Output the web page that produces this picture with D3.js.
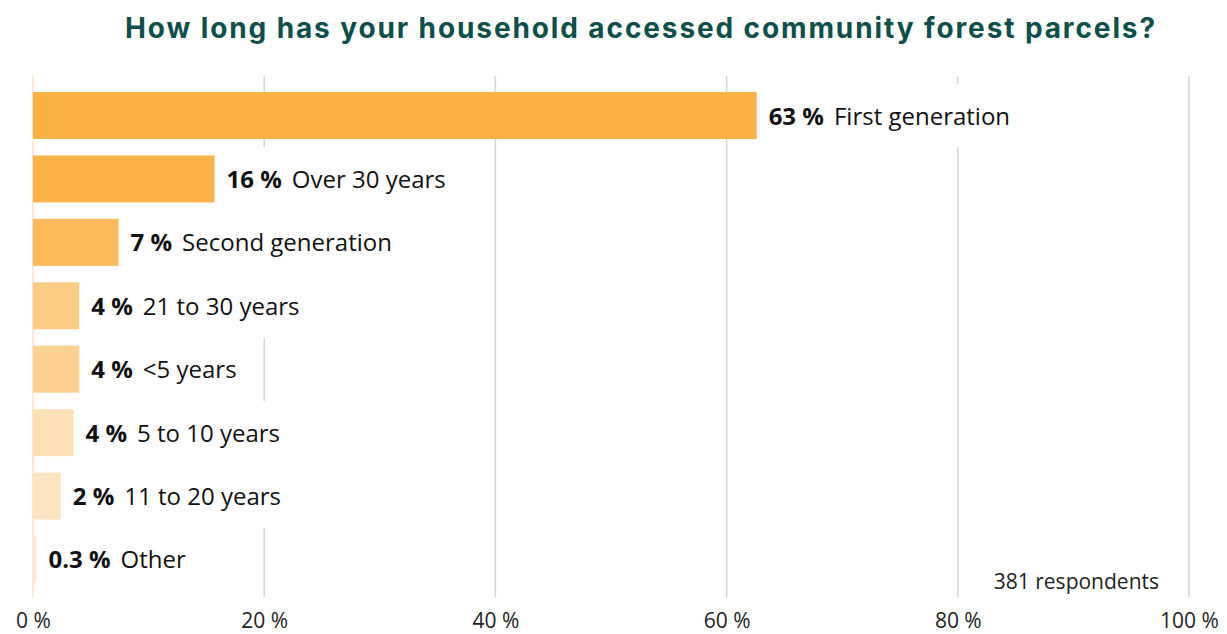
<!DOCTYPE html>
<html>
<head>
<meta charset="utf-8">
<script src="https://cdn.jsdelivr.net/npm/d3@7"></script>
<style>
  body { margin: 0; background: #fff; }
  text { font-family: "Open Sans", "Noto Sans", sans-serif; }
</style>
</head>
<body>
<div id="chart"></div>
<script>
// data
var categories = ["First generation", "Over 30 years", "Second generation", "21 to 30 years",
                  "<5 years", "5 to 10 years", "11 to 20 years", "Other"];
var values = [62.6, 15.7, 7.4, 4.0, 4.0, 3.5, 2.4, 0.3];
var valueLabels = ["63 %", "16 %", "7 %", "4 %", "4 %", "4 %", "2 %", "0.3 %"];
var barColors = ["#fbb144", "#fbb349", "#fbb95a", "#fccb85", "#fcd08f", "#fddfb6", "#fde3bf", "#fee9cf"];
var ticks = [0, 20, 40, 60, 80, 100];
var titleText = "How long has your household accessed community forest parcels?";
var noteText = "381 respondents";

var width = 1227, height = 634;
var margin = {top: 92, left: 33, right: 38, bottom: 51};

var svg = d3.select("#chart").append("svg")
    .attr("width", width)
    .attr("height", height);

var x = d3.scaleLinear()
    .domain([0, 100])
    .range([margin.left, width - margin.right]);

var y = d3.scaleBand()
    .domain(categories)
    .range([margin.top, 583])
    .paddingInner(0.259)
    .paddingOuter(0);

var step = y.step();

// title, stretched to the width it has in the original
var title = svg.append("text")
    .attr("x", 641)
    .attr("y", 38)
    .attr("text-anchor", "middle")
    .style("font-family", "Inter, sans-serif")
    .style("font-weight", 700)
    .style("font-size", "28px")
    .style("fill", "#0d4f4a")
    .text(titleText);
var tw = title.node().getComputedTextLength();
title.style("letter-spacing", ((1032 - tw) / titleText.length) + "px");

// grid lines
var grid = svg.append("g");
grid.selectAll("line")
    .data(ticks)
  .enter().append("line")
    .attr("x1", function(d) { return x(d); })
    .attr("x2", function(d) { return x(d); })
    .attr("y1", 76)
    .attr("y2", 597)
    .style("stroke", function(d) { return d === 0 ? "#fde7d9" : "#d4d4d4"; })
    .style("stroke-width", function(d) { return d === 0 ? 2 : 1.5; });

// axis labels
var xAxis = d3.axisBottom(x)
    .tickValues(ticks)
    .tickSize(0)
    .tickPadding(0)
    .tickFormat(function(d) { return d + " %"; });

var axisG = svg.append("g")
    .attr("transform", "translate(0," + 628 + ")")
    .call(xAxis);
axisG.select(".domain").remove();
axisG.selectAll("text")
    .attr("y", 0)
    .attr("dy", 0)
    .style("font-family", "'Open Sans', sans-serif")
    .style("font-size", "21px")
    .style("fill", "#222");

// label masks + bars + labels
var rows = svg.append("g").selectAll("g")
    .data(categories)
  .enter().append("g");

rows.append("rect").attr("class", "mask").style("fill", "#fff");

rows.append("rect")
    .attr("x", x(0))
    .attr("y", function(d) { return y(d); })
    .attr("width", function(d, i) { return x(values[i]) - x(0); })
    .attr("height", y.bandwidth())
    .style("fill", function(d, i) { return barColors[i]; });

var labels = rows.append("text")
    .attr("x", function(d, i) { return x(values[i]) + 12; })
    .attr("y", function(d) { return y(d) + y.bandwidth() / 2 + 9; })
    .style("font-size", "24px")
    .style("fill", "#111");

labels.append("tspan")
    .style("font-weight", 700)
    .text(function(d, i) { return valueLabels[i]; });
labels.append("tspan")
    .attr("dx", 10)
    .text(function(d) { return d; });

labels.each(function(d) {
  var bb = this.getBBox();
  d3.select(this.parentNode).select(".mask")
    .attr("x", bb.x - 8)
    .attr("width", bb.width + 18)
    .attr("y", y(d) + y.bandwidth() / 2 - step / 2)
    .attr("height", step);
});

// note
svg.append("text")
    .attr("x", 1159)
    .attr("y", 589)
    .attr("text-anchor", "end")
    .style("font-size", "21px")
    .style("fill", "#222")
    .text(noteText);
</script>
</body>
</html>
